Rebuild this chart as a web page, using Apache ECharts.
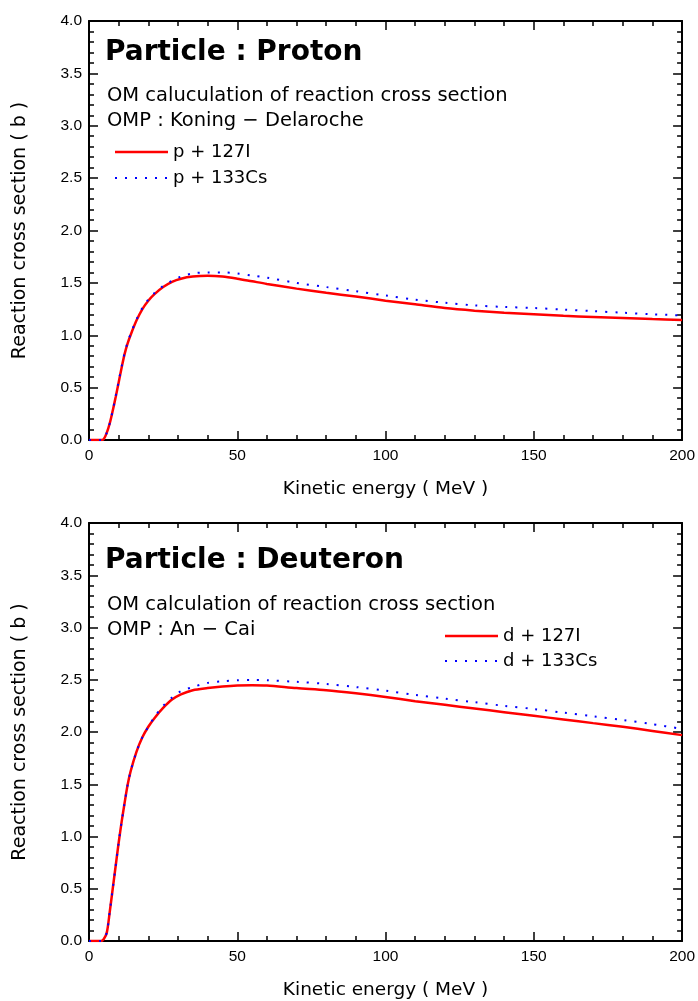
<!DOCTYPE html>
<html>
<head>
<meta charset="utf-8">
<script src="https://cdn.jsdelivr.net/npm/echarts@6/dist/echarts.min.js"></script>
<style>
  html, body { margin: 0; padding: 0; background: #fff; }
  #chart { width: 698px; height: 1001px; }
</style>
</head>
<body>
<div id="chart"></div>
<script>
// energies (MeV)
var energy = [0, 4, 5, 6, 7, 8, 9, 10, 11, 12, 13, 14, 16, 18, 20, 22, 25, 28, 31, 35, 40, 45, 50, 55, 60, 70, 80, 90, 100, 110, 120, 130, 140, 150, 160, 170, 180, 190, 200];

// proton
var pI = [0, 0, 0.01, 0.07, 0.16, 0.28, 0.41, 0.55, 0.69, 0.82, 0.92, 1.00, 1.14, 1.25, 1.33, 1.39, 1.46, 1.51, 1.54, 1.56, 1.567, 1.56, 1.54, 1.515, 1.49, 1.445, 1.405, 1.37, 1.33, 1.295, 1.26, 1.235, 1.215, 1.20, 1.185, 1.175, 1.165, 1.155, 1.146];
var pCs = [0, 0, 0.01, 0.07, 0.16, 0.28, 0.42, 0.56, 0.70, 0.83, 0.93, 1.01, 1.15, 1.26, 1.34, 1.40, 1.47, 1.52, 1.56, 1.59, 1.60, 1.60, 1.59, 1.57, 1.55, 1.50, 1.46, 1.42, 1.38, 1.34, 1.31, 1.285, 1.27, 1.26, 1.245, 1.23, 1.215, 1.20, 1.19];

// deuteron
var dI = [0, 0, 0.02, 0.08, 0.28, 0.50, 0.72, 0.94, 1.14, 1.32, 1.49, 1.62, 1.81, 1.95, 2.05, 2.13, 2.23, 2.31, 2.36, 2.40, 2.42, 2.435, 2.445, 2.448, 2.445, 2.42, 2.40, 2.37, 2.335, 2.295, 2.26, 2.225, 2.19, 2.155, 2.12, 2.085, 2.05, 2.01, 1.97];
var dCs = [0, 0, 0.02, 0.08, 0.28, 0.50, 0.72, 0.94, 1.14, 1.32, 1.49, 1.62, 1.81, 1.95, 2.05, 2.14, 2.25, 2.33, 2.39, 2.43, 2.47, 2.485, 2.495, 2.497, 2.495, 2.48, 2.46, 2.43, 2.395, 2.355, 2.32, 2.285, 2.25, 2.22, 2.185, 2.15, 2.115, 2.075, 2.03];

var font = "'DejaVu Sans', sans-serif";
var tickFont = "'Liberation Sans', Arial, sans-serif";

function pairs(ys) {
  return energy.map(function (e, i) { return [e, ys[i]]; });
}

function xAxis(idx, pos) {
  var bottom = pos === "bottom";
  return {
    type: "value", gridIndex: idx, position: pos, min: 0, max: 200, interval: 50,
    name: bottom ? "Kinetic energy ( MeV )" : "", nameLocation: "middle", nameGap: 40,
    nameTextStyle: { fontFamily: font, fontSize: 18.5, color: "#000" },
    axisLine: { show: true, onZero: false, lineStyle: { color: "#000", width: 2 } },
    axisTick: { show: true, inside: true, length: 9, lineStyle: { color: "#000", width: 1.5 } },
    minorTick: { show: true, splitNumber: 5, length: 5, lineStyle: { color: "#000", width: 1.5 } },
    axisLabel: { show: bottom, margin: 8, fontFamily: tickFont, fontSize: 15.5, color: "#000" },
    splitLine: { show: false }
  };
}

function yAxis(idx, pos) {
  var left = pos === "left";
  return {
    type: "value", gridIndex: idx, position: pos, min: 0, max: 4, interval: 0.5,
    name: left ? "Reaction cross section ( b )" : "", nameLocation: "middle", nameGap: 59,
    nameTextStyle: { fontFamily: font, fontSize: 19, color: "#000" },
    axisLine: { show: true, onZero: false, lineStyle: { color: "#000", width: 2 } },
    axisTick: { show: true, inside: true, length: 9, lineStyle: { color: "#000", width: 1.5 } },
    minorTick: { show: true, splitNumber: 5, length: 5, lineStyle: { color: "#000", width: 1.5 } },
    axisLabel: {
      show: left, margin: 7, fontFamily: tickFont, fontSize: 15.5, color: "#000",
      formatter: function (v) { return v.toFixed(1); }
    },
    splitLine: { show: false }
  };
}

var redLine = { color: "#ff0000", width: 2.5 };
var blueDots = { color: "#0000ff", width: 2, type: [2, 8] };

function series(name, idx, ys, style, z) {
  return {
    name: name, type: "line", xAxisIndex: idx * 2, yAxisIndex: idx * 2,
    data: pairs(ys), smooth: 0.3, symbol: "none", z: z,
    lineStyle: style, itemStyle: { color: style.color }
  };
}

// legend sample line + label
function key(x, y, label, style) {
  return [
    { type: "line", shape: { x1: x, y1: y, x2: x + 53, y2: y },
      style: { stroke: style.color, lineWidth: style.width, lineDash: style.type === undefined ? null : style.type } },
    { type: "text", x: x + 58, y: y,
      style: { text: label, font: "18px " + font, fill: "#000", verticalAlign: "middle", align: "left" } }
  ];
}

var chart = echarts.init(document.getElementById("chart"));
chart.setOption({
  backgroundColor: "#fff",
  animation: false,
  title: [
    { text: "Particle : Proton", left: 100, top: 34, textStyle: { fontFamily: font, fontWeight: "bold", fontSize: 28, color: "#000" } },
    { text: "OM caluculation of reaction cross section\nOMP : Koning − Delaroche", left: 102, top: 78, textStyle: { fontFamily: font, fontWeight: "normal", fontSize: 19.5, lineHeight: 25, color: "#000" } },
    { text: "Particle : Deuteron", left: 100, top: 542, textStyle: { fontFamily: font, fontWeight: "bold", fontSize: 28, color: "#000" } },
    { text: "OM calculation of reaction cross section\nOMP : An − Cai", left: 102, top: 587, textStyle: { fontFamily: font, fontWeight: "normal", fontSize: 19.5, lineHeight: 25, color: "#000" } }
  ],
  graphic: [].concat(
    key(115, 152, "p + 127I", redLine),
    key(115, 178, "p + 133Cs", blueDots),
    key(445, 636, "d + 127I", redLine),
    key(445, 661, "d + 133Cs", blueDots)
  ),
  grid: [
    { left: 89, top: 21, width: 594, height: 419 },
    { left: 89, top: 523, width: 594, height: 420 }
  ],
  xAxis: [xAxis(0, "bottom"), xAxis(0, "top"), xAxis(1, "bottom"), xAxis(1, "top")],
  yAxis: [yAxis(0, "left"), yAxis(0, "right"), yAxis(1, "left"), yAxis(1, "right")],
  series: [
    series("p + 127I", 0, pI, redLine, 3),
    series("p + 133Cs", 0, pCs, blueDots, 4),
    series("d + 127I", 1, dI, redLine, 3),
    series("d + 133Cs", 1, dCs, blueDots, 4)
  ]
});
</script>
</body>
</html>
